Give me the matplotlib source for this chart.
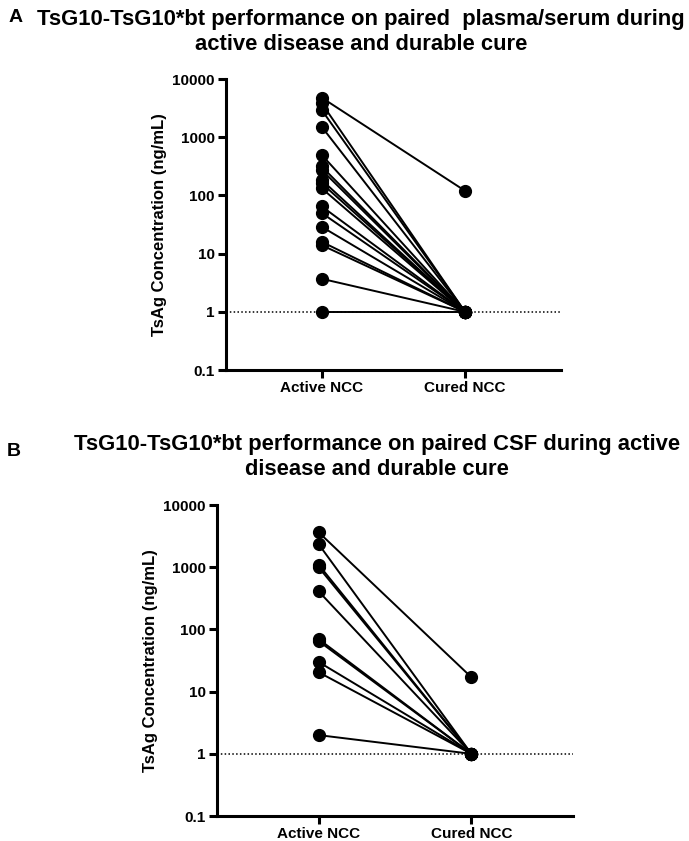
import matplotlib
matplotlib.use("Agg")
import matplotlib.pyplot as plt
from matplotlib import font_manager

names = {f.name for f in font_manager.fontManager.ttflist}
narrow = "Liberation Sans Narrow" if "Liberation Sans Narrow" in names else "Liberation Sans"
plain = "Liberation Sans" if "Liberation Sans" in names else "DejaVu Sans"

groups = ["Active NCC", "Cured NCC"]
yticks = [0.1, 1, 10, 100, 1000, 10000]
ytick_labels = ["0.1", "1", "10", "100", "1000", "10000"]

active_a = [4800, 3850, 2950, 1520, 500, 315, 275, 185, 162, 133, 65, 50, 29, 16, 14, 3.7, 1]
cured_a = [120, 1, 1, 1, 1, 1, 1, 1, 1, 1, 1, 1, 1, 1, 1, 1, 1]

active_b = [3650, 2350, 1100, 1000, 410, 70, 65, 30, 20.5, 2]
cured_b = [17, 1, 1, 1, 1, 1, 1, 1, 1, 1]

title_a = "TsG10-TsG10*bt performance on paired  plasma/serum during\nactive disease and durable cure"
title_b = "TsG10-TsG10*bt performance on paired CSF during active\ndisease and durable cure"
ylabel = "TsAg Concentration (ng/mL)"

fig = plt.figure(figsize=(6.89, 8.41), dpi=100)

def panel(rect, active, cured):
    ax = fig.add_axes(rect)
    for a, c in zip(active, cured):
        ax.plot([0, 1], [a, c], color="black", lw=1.4, marker="o", ms=8.5,
                mec="black", mfc="black", zorder=3, clip_on=False)
    ax.axhline(1, color="black", lw=1.1, ls=(0, (1, 1.5)), zorder=1)
    ax.set_yscale("log")
    ax.set_ylim(0.1, 10000)
    ax.set_xlim(-0.667, 1.667)
    ax.set_yticks(yticks)
    ax.set_yticklabels(ytick_labels)
    ax.yaxis.set_minor_locator(matplotlib.ticker.NullLocator())
    ax.set_xticks([0, 1])
    ax.set_xticklabels(groups)
    for s in ["top", "right"]:
        ax.spines[s].set_visible(False)
    for s in ["left", "bottom"]:
        ax.spines[s].set_linewidth(2.2)
    ax.tick_params(width=2.2, length=6, pad=2)
    for lab in ax.get_yticklabels() + ax.get_xticklabels():
        lab.set_fontfamily(plain)
        lab.set_fontweight("bold")
        lab.set_fontsize(11)
    ax.set_ylabel(ylabel, fontfamily=plain, fontweight="bold", fontsize=12, labelpad=4)
    return ax

panel([0.328, 0.560, 0.4858, 0.346], active_a, cured_a)
panel([0.3145, 0.0297, 0.5176, 0.3698], active_b, cured_b)

fig.text(361 / 689, 1 - 32 / 841, title_a, ha="center", va="center",
         fontfamily=narrow, fontweight="bold", fontsize=15.8, linespacing=1.3)
fig.text(9 / 689, 1 - 18 / 841, "A", ha="left", va="center",
         fontfamily=narrow, fontweight="bold", fontsize=14)
fig.text(377 / 689, 1 - 457 / 841, title_b, ha="center", va="center",
         fontfamily=narrow, fontweight="bold", fontsize=15.8, linespacing=1.3)
fig.text(7 / 689, 1 - 452 / 841, "B", ha="left", va="center",
         fontfamily=narrow, fontweight="bold", fontsize=14)

fig.savefig("out.png", dpi=100)
